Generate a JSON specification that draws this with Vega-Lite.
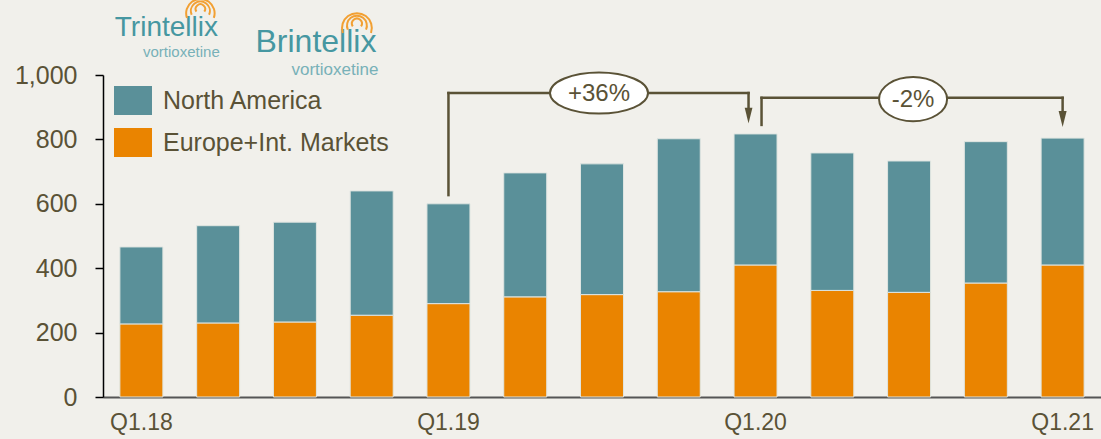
{
  "$schema": "https://vega.github.io/schema/vega-lite/v6.json",
  "width": 998,
  "height": 322,
  "autosize": {"type": "none"},
  "padding": {"left": 103, "top": 75, "right": 0, "bottom": 42},
  "background": "#f1f0eb",
  "config": {
    "view": {"stroke": null},
    "font": "Liberation Sans"
  },
  "layer": [
    {
      "data": {
        "values": [
          {"q": "Q1.18", "region": "Europe+Int. Markets", "v": 227},
          {"q": "Q1.18", "region": "North America", "v": 239},
          {"q": "Q2.18", "region": "Europe+Int. Markets", "v": 230},
          {"q": "Q2.18", "region": "North America", "v": 302},
          {"q": "Q3.18", "region": "Europe+Int. Markets", "v": 233},
          {"q": "Q3.18", "region": "North America", "v": 310},
          {"q": "Q4.18", "region": "Europe+Int. Markets", "v": 254},
          {"q": "Q4.18", "region": "North America", "v": 386},
          {"q": "Q1.19", "region": "Europe+Int. Markets", "v": 290},
          {"q": "Q1.19", "region": "North America", "v": 310},
          {"q": "Q2.19", "region": "Europe+Int. Markets", "v": 311},
          {"q": "Q2.19", "region": "North America", "v": 385},
          {"q": "Q3.19", "region": "Europe+Int. Markets", "v": 318},
          {"q": "Q3.19", "region": "North America", "v": 406},
          {"q": "Q4.19", "region": "Europe+Int. Markets", "v": 327},
          {"q": "Q4.19", "region": "North America", "v": 475},
          {"q": "Q1.20", "region": "Europe+Int. Markets", "v": 410},
          {"q": "Q1.20", "region": "North America", "v": 407},
          {"q": "Q2.20", "region": "Europe+Int. Markets", "v": 331},
          {"q": "Q2.20", "region": "North America", "v": 427},
          {"q": "Q3.20", "region": "Europe+Int. Markets", "v": 325},
          {"q": "Q3.20", "region": "North America", "v": 408},
          {"q": "Q4.20", "region": "Europe+Int. Markets", "v": 354},
          {"q": "Q4.20", "region": "North America", "v": 439},
          {"q": "Q1.21", "region": "Europe+Int. Markets", "v": 410},
          {"q": "Q1.21", "region": "North America", "v": 394}
        ]
      },
      "mark": {"type": "bar", "stroke": "#dfe5e1", "strokeWidth": 1},
      "encoding": {
        "x": {
          "field": "q", "type": "nominal", "sort": null,
          "scale": {"paddingInner": 0.44, "paddingOuter": 0.22},
          "axis": {
            "title": null, "values": ["Q1.18", "Q1.19", "Q1.20", "Q1.21"],
            "labelAngle": 0, "ticks": false, "domainColor": "#555555", "domainWidth": 2,
            "labelFontSize": 23, "labelColor": "#5a5236",
            "labelPadding": 14, "labelBaseline": "top"
          }
        },
        "y": {
          "field": "v", "type": "quantitative", "stack": "zero",
          "scale": {"domain": [0, 1000], "nice": false},
          "axis": {
            "title": null, "values": [0, 200, 400, 600, 800, 1000], "format": ",d",
            "grid": false, "domainColor": "#000000", "domainWidth": 1.5,
            "tickColor": "#000000", "tickWidth": 1.5, "tickSize": 8,
            "labelFontSize": 25, "labelColor": "#5a5236", "labelPadding": 18
          }
        },
        "color": {
          "field": "region", "type": "nominal",
          "scale": {"domain": ["North America", "Europe+Int. Markets"], "range": ["#5a9099", "#ea8400"]},
          "legend": {
            "title": null, "orient": "none", "legendX": 15.5, "legendY": 11, "padding": 0,
            "symbolType": "M-1.31,-1H1.31V1H-1.31Z", "symbolSize": 841, "symbolStrokeWidth": 0,
            "labelFontSize": 25, "labelColor": "#5a5236", "labelOffset": 15.5, "rowPadding": 13,
            "labelBaseline": "middle", "labelLimit": 0
          }
        },
        "order": {"field": "region", "sort": "ascending"}
      }
    },
    {
      "data": {"values": [{"q": "Q1.19", "v": 627, "v2": 944}, {"q": "Q1.21", "v": 929, "v2": 872}]},
      "mark": {"type": "rule", "color": "#5a5236", "strokeWidth": 2.5, "strokeCap": "square"},
      "encoding": {"x": {"field": "q", "type": "nominal", "sort": null}, "y": {"field": "v", "type": "quantitative"}, "y2": {"field": "v2"}}
    },
    {
      "data": {"values": [{"q": "Q1.20", "v": 944, "v2": 880}]},
      "mark": {"type": "rule", "color": "#5a5236", "strokeWidth": 2.5, "strokeCap": "square", "xOffset": -7},
      "encoding": {"x": {"field": "q", "type": "nominal", "sort": null}, "y": {"field": "v", "type": "quantitative"}, "y2": {"field": "v2"}}
    },
    {
      "data": {"values": [{"q": "Q1.20", "v": 845, "v2": 929}]},
      "mark": {"type": "rule", "color": "#5a5236", "strokeWidth": 2.5, "strokeCap": "square", "xOffset": 6},
      "encoding": {"x": {"field": "q", "type": "nominal", "sort": null}, "y": {"field": "v", "type": "quantitative"}, "y2": {"field": "v2"}}
    },
    {
      "data": {"values": [{"q": "Q1.19", "q2": "Q1.20", "v": 944}]},
      "mark": {"type": "rule", "color": "#5a5236", "strokeWidth": 2.5, "strokeCap": "square", "x2Offset": -7},
      "encoding": {"x": {"field": "q", "type": "nominal", "sort": null}, "x2": {"field": "q2"}, "y": {"field": "v", "type": "quantitative"}}
    },
    {
      "data": {"values": [{"q": "Q1.20", "q2": "Q1.21", "v": 929}]},
      "mark": {"type": "rule", "color": "#5a5236", "strokeWidth": 2.5, "strokeCap": "square", "xOffset": 6},
      "encoding": {"x": {"field": "q", "type": "nominal", "sort": null}, "x2": {"field": "q2"}, "y": {"field": "v", "type": "quantitative"}}
    },
    {
      "data": {"values": [{"q": "Q1.20", "v": 874}]},
      "mark": {"type": "point", "shape": "M-0.5,-1L0.5,-1L0,1Z", "size": 240, "filled": true, "color": "#5a5236", "opacity": 1, "xOffset": -7},
      "encoding": {"x": {"field": "q", "type": "nominal", "sort": null}, "y": {"field": "v", "type": "quantitative"}}
    },
    {
      "data": {"values": [{"q": "Q1.21", "v": 863}]},
      "mark": {"type": "point", "shape": "M-0.5,-1L0.5,-1L0,1Z", "size": 256, "filled": true, "color": "#5a5236", "opacity": 1},
      "encoding": {"x": {"field": "q", "type": "nominal", "sort": null}, "y": {"field": "v", "type": "quantitative"}}
    },
    {
      "data": {"values": [{"q": "Q3.19", "v": 944}]},
      "mark": {"type": "point", "shape": "M-1,0A1,0.42,0,1,1,1,0A1,0.42,0,1,1,-1,0Z", "size": 9604, "filled": false, "fill": "#ffffff", "fillOpacity": 1, "stroke": "#5a5236", "strokeWidth": 2, "opacity": 1, "xOffset": -3},
      "encoding": {"x": {"field": "q", "type": "nominal", "sort": null}, "y": {"field": "v", "type": "quantitative"}}
    },
    {
      "data": {"values": [{"q": "Q3.20", "v": 925}]},
      "mark": {"type": "point", "shape": "M-1,0A1,0.65,0,1,1,1,0A1,0.65,0,1,1,-1,0Z", "size": 4624, "filled": false, "fill": "#ffffff", "fillOpacity": 1, "stroke": "#5a5236", "strokeWidth": 2, "opacity": 1, "xOffset": 4},
      "encoding": {"x": {"field": "q", "type": "nominal", "sort": null}, "y": {"field": "v", "type": "quantitative"}}
    },
    {
      "data": {"values": [{"q": "Q3.19", "v": 944, "label": "+36%"}]},
      "mark": {"type": "text", "fontSize": 24, "color": "#5a5236", "baseline": "middle", "dy": 1, "xOffset": -3},
      "encoding": {"x": {"field": "q", "type": "nominal", "sort": null}, "y": {"field": "v", "type": "quantitative"}, "text": {"field": "label"}}
    },
    {
      "data": {"values": [{"q": "Q3.20", "v": 925, "label": "-2%"}]},
      "mark": {"type": "text", "fontSize": 24, "color": "#5a5236", "baseline": "middle", "dy": 1, "xOffset": 4},
      "encoding": {"x": {"field": "q", "type": "nominal", "sort": null}, "y": {"field": "v", "type": "quantitative"}, "text": {"field": "label"}}
    },
    {
      "data": {"values": [{"q": "Q1.18", "v": 1122, "label": "Trintellix"}]},
      "mark": {"type": "text", "fontSize": 28, "color": "#4697a1", "baseline": "alphabetic", "dx": 25},
      "encoding": {"x": {"field": "q", "type": "nominal", "sort": null}, "y": {"field": "v", "type": "quantitative"}, "text": {"field": "label"}}
    },
    {
      "data": {"values": [{"q": "Q1.18", "v": 1057, "label": "vortioxetine"}]},
      "mark": {"type": "text", "fontSize": 15, "color": "#78b1b8", "baseline": "alphabetic", "dx": 40},
      "encoding": {"x": {"field": "q", "type": "nominal", "sort": null}, "y": {"field": "v", "type": "quantitative"}, "text": {"field": "label"}}
    },
    {
      "data": {"values": [{"q": "Q3.18", "v": 1070, "label": "Brintellix"}]},
      "mark": {"type": "text", "fontSize": 32, "color": "#4697a1", "baseline": "alphabetic", "dx": 21},
      "encoding": {"x": {"field": "q", "type": "nominal", "sort": null}, "y": {"field": "v", "type": "quantitative"}, "text": {"field": "label"}}
    },
    {
      "data": {"values": [{"q": "Q3.18", "v": 999, "label": "vortioxetine"}]},
      "mark": {"type": "text", "fontSize": 17, "color": "#78b1b8", "baseline": "alphabetic", "dx": 40},
      "encoding": {"x": {"field": "q", "type": "nominal", "sort": null}, "y": {"field": "v", "type": "quantitative"}, "text": {"field": "label"}}
    },
    {
      "data": {"values": [{"q": "Q1.18", "v": 1192}]},
      "mark": {"type": "point", "shape": "M-0.25,-0.1A0.3,0.3,0,1,1,0.25,-0.1M-0.55,0.1A0.6,0.6,0,1,1,0.55,0.1M-0.85,0.3A0.9,0.9,0,1,1,0.85,0.3", "size": 1000, "filled": false, "stroke": "#f2a033", "strokeWidth": 2, "opacity": 1, "xOffset": 59},
      "encoding": {"x": {"field": "q", "type": "nominal", "sort": null}, "y": {"field": "v", "type": "quantitative"}}
    },
    {
      "data": {"values": [{"q": "Q3.18", "v": 1146}]},
      "mark": {"type": "point", "shape": "M-0.25,-0.1A0.3,0.3,0,1,1,0.25,-0.1M-0.55,0.1A0.6,0.6,0,1,1,0.55,0.1M-0.85,0.3A0.9,0.9,0,1,1,0.85,0.3", "size": 1100, "filled": false, "stroke": "#f2a033", "strokeWidth": 2, "opacity": 1, "xOffset": 62},
      "encoding": {"x": {"field": "q", "type": "nominal", "sort": null}, "y": {"field": "v", "type": "quantitative"}}
    }
  ]
}
